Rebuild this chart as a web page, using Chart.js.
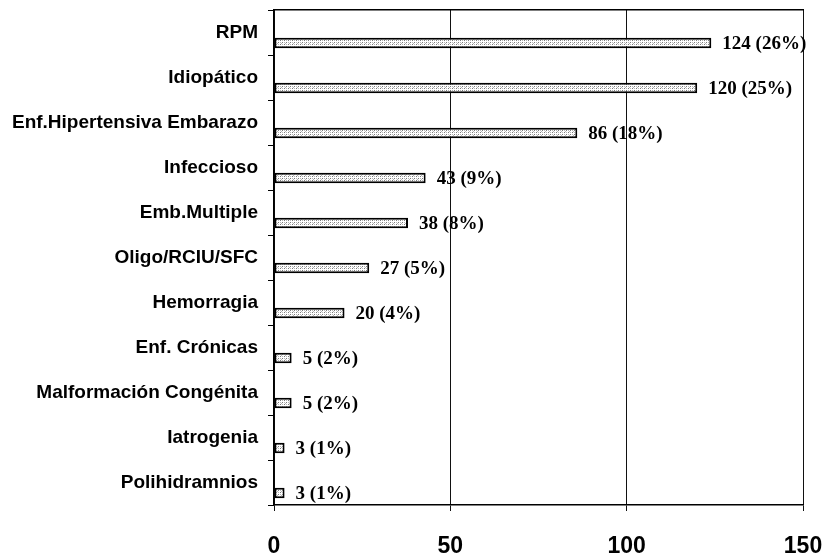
<!DOCTYPE html>
<html>
<head>
<meta charset="utf-8">
<script src="https://cdn.jsdelivr.net/npm/chart.js@4/dist/chart.umd.min.js"></script>
<style>
  html, body { margin: 0; padding: 0; background: #fff; }
  #wrap { width: 830px; height: 556px; }
</style>
</head>
<body>
<div id="wrap"><canvas id="c" width="830" height="556"></canvas></div>
<script>
// Causas de parto pretérmino: número de casos y porcentaje
const causas = [
  'RPM',
  'Idiopático',
  'Enf.Hipertensiva Embarazo',
  'Infeccioso',
  'Emb.Multiple',
  'Oligo/RCIU/SFC',
  'Hemorragia',
  'Enf. Crónicas',
  'Malformación Congénita',
  'Iatrogenia',
  'Polihidramnios'
];
const casos = [124, 120, 86, 43, 38, 27, 20, 5, 5, 3, 3];
const porcentajes = [26, 25, 18, 9, 8, 5, 4, 2, 2, 1, 1];
const marcasX = [0, 50, 100, 150];

const canvas = document.getElementById('c');
const ctx = canvas.getContext('2d');

// Relleno punteado gris claro de las barras
function punteado(context) {
  const t = document.createElement('canvas');
  t.width = 4; t.height = 4;
  const g = t.getContext('2d');
  g.fillStyle = '#ffffff';
  g.fillRect(0, 0, 4, 4);
  g.fillStyle = '#7a7a7a';
  g.fillRect(0, 0, 1, 1);
  g.fillRect(2, 2, 1, 1);
  g.fillStyle = '#b8b8b8';
  g.fillRect(2, 0, 1, 1);
  g.fillRect(0, 2, 1, 1);
  g.fillRect(1, 3, 1, 1);
  return context.createPattern(t, 'repeat');
}

// Texto "n (p%)" a la derecha de cada barra
const etiquetasValor = {
  id: 'etiquetasValor',
  afterDatasetsDraw(chart) {
    const meta = chart.getDatasetMeta(1);
    const c = chart.ctx;
    c.save();
    c.font = 'bold 19px "Liberation Serif", "Times New Roman", serif';
    c.fillStyle = '#000';
    c.textBaseline = 'middle';
    c.textAlign = 'left';
    meta.data.forEach((bar, i) => {
      c.fillText(casos[i] + ' (' + porcentajes[i] + '%)', bar.x + 11, bar.y + 1);
    });
    c.restore();
  }
};

new Chart(ctx, {
  type: 'bar',
  data: {
    labels: causas,
    datasets: [
      {
        // carril vacío: deja la barra en la mitad inferior de cada categoría
        label: '',
        data: [],
        stack: 'carril',
        backgroundColor: 'rgba(0,0,0,0)',
        borderWidth: 0
      },
      {
        label: 'Casos',
        data: casos,
        stack: 'casos',
        backgroundColor: punteado(ctx),
        borderColor: '#000',
        borderWidth: 2,
        borderSkipped: false
      }
    ]
  },
  options: {
    indexAxis: 'y',
    responsive: false,
    animation: false,
    categoryPercentage: 0.94,
    barPercentage: 0.5,
    layout: { padding: { left: 10, right: 27, top: 10, bottom: 0 } },
    plugins: {
      legend: { display: false },
      tooltip: { enabled: false }
    },
    scales: {
      x: {
        position: 'bottom',
        min: 0,
        max: 150,
        afterBuildTicks: s => { s.ticks = marcasX.map(v => ({ value: v })); },
        afterFit: s => { s.height = 51; s.paddingLeft = 0; s.paddingRight = 0; },
        grid: {
          color: '#111',
          lineWidth: 1,
          tickLength: 6,
          drawTicks: true
        },
        border: { display: true, color: '#000', width: 1.5 },
        ticks: {
          color: '#000',
          padding: 22,
          maxRotation: 0,
          font: { family: '"Liberation Sans", Arial, sans-serif', size: 23, weight: 'bold' }
        }
      },
      xTop: {
        position: 'top',
        min: 0,
        max: 150,
        afterFit: s => { s.height = 0; s.paddingLeft = 0; s.paddingRight = 0; },
        grid: { display: true, drawOnChartArea: false, drawTicks: false },
        border: { display: true, color: '#000', width: 1.5 },
        ticks: { display: false }
      },
      y: {
        afterFit: s => { s.width = 264; s.paddingTop = 0; s.paddingBottom = 0; },
        grid: {
          display: true,
          drawOnChartArea: false,
          offset: true,
          color: '#000',
          tickLength: 6
        },
        border: { display: true, color: '#000', width: 1.5 },
        ticks: {
          color: '#000',
          padding: 10,
          font: { family: '"Liberation Sans", Arial, sans-serif', size: 19, weight: 'bold' }
        }
      }
    }
  },
  plugins: [etiquetasValor]
});
</script>
</body>
</html>
